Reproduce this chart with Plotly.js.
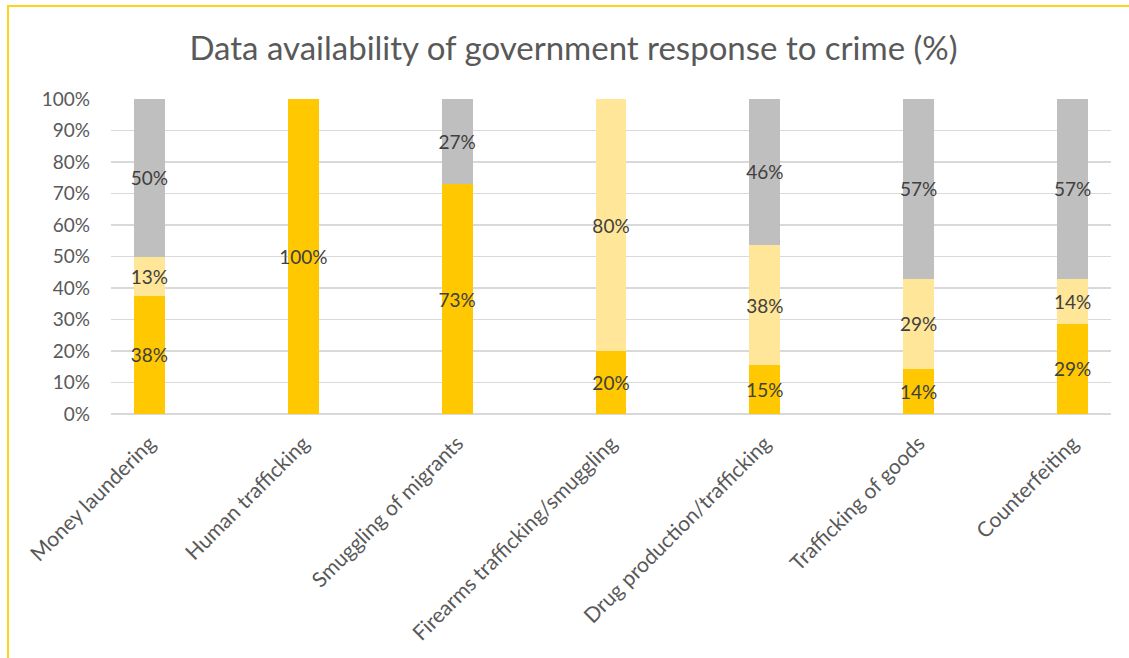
<!DOCTYPE html>
<html>
<head>
<meta charset="utf-8">
<script src="https://cdn.plot.ly/plotly-3.0.1.min.js"></script>
<style>
  html, body { margin: 0; padding: 0; background: #fff; overflow: hidden; }
  #chart { width: 1129px; height: 658px; position: absolute; left: 0; top: 0; }
  #frame { position: absolute; left: 7px; top: 5px; width: 1200px; height: 700px;
           border: 2px solid #FFD31A; pointer-events: none; }
</style>
</head>
<body>
<div id="chart"></div>
<div id="frame"></div>
<script>
const categories = [
  "Money laundering",
  "Human trafficking",
  "Smuggling of migrants",
  "Firearms trafficking/smuggling",
  "Drug production/trafficking",
  "Trafficking of goods",
  "Counterfeiting"
];
const seriesA = [37.5, 100, 73, 20, 15.4, 14.3, 28.6];
const seriesB = [12.5, 0, 0, 80, 38.4, 28.6, 14.3];
const seriesC = [50, 0, 27, 0, 46.2, 57.1, 57.1];
const yTickVals = [0, 10, 20, 30, 40, 50, 60, 70, 80, 90, 100];
const yTickText = ["0%", "10%", "20%", "30%", "40%", "50%", "60%", "70%", "80%", "90%", "100%"];

const FONT = "Lato, 'Open Sans', sans-serif";
function labels(vals) { return vals.map(v => v > 0 ? Math.round(v) + "%" : ""); }
function mk(vals, color, name) {
  return {
    type: "bar", x: categories, y: vals, name: name,
    marker: { color: color },
    text: labels(vals), textposition: "inside", insidetextanchor: "middle",
    textangle: 0, constraintext: "none",
    textfont: { family: FONT, size: 19, color: "#404040" },
    hoverinfo: "skip"
  };
}
const data = [
  mk(seriesA, "#FFC800", "A"),
  mk(seriesB, "#FFE699", "B"),
  mk(seriesC, "#BFBFBF", "C")
];
const layout = {
  width: 1129, height: 658,
  barmode: "stack", bargap: 0.8,
  showlegend: false,
  paper_bgcolor: "#fff", plot_bgcolor: "#fff",
  margin: { l: 111, r: 18, t: 99, b: 244 },
  title: { text: "Data availability of government response to crime (%)",
           x: 0.508, xref: "container", xanchor: "center", y: 0.927, yanchor: "middle",
           font: { family: FONT, size: 33, color: "#595959" } },
  xaxis: { type: "category", range: [-0.25, 6.25], tickangle: -45,
           tickfont: { family: FONT, size: 21, color: "#595959" },
           ticklabelstandoff: 12,
           showline: false, ticks: "", fixedrange: true },
  yaxis: { range: [0, 100], tickvals: yTickVals, ticktext: yTickText,
           tickfont: { family: FONT, size: 19, color: "#595959" },
           ticklabelstandoff: 20,
           gridcolor: "#D9D9D9", gridwidth: 1.5, zeroline: true, zerolinecolor: "#D9D9D9",
           zerolinewidth: 1.5, ticks: "", ticklen: 0, fixedrange: true }
};
Plotly.newPlot("chart", data, layout, { displayModeBar: false, staticPlot: true });
</script>
</body>
</html>
